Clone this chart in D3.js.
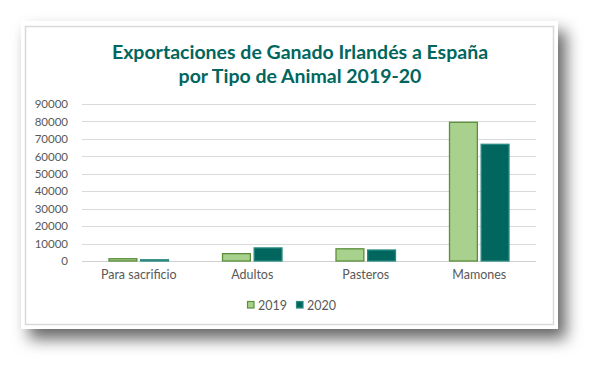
<!DOCTYPE html>
<html>
<head>
<meta charset="utf-8">
<script src="https://cdn.jsdelivr.net/npm/d3@7"></script>
<style>
  body { margin: 0; background: #fff; }
  svg text { font-family: Lato, "Open Sans", sans-serif; }
</style>
</head>
<body>
<div id="plot-container"></div>
<script>
// data
var categories = ['Para sacrificio', 'Adultos', 'Pasteros', 'Mamones'];
var seriesNames = ['2019', '2020'];
var values2019 = [1300, 4200, 7000, 79500];
var values2020 = [700, 7500, 6300, 66900];
var yTicks = [0, 10000, 20000, 30000, 40000, 50000, 60000, 70000, 80000, 90000];
var titleLines = ['Exportaciones de Ganado Irlandés a España', 'por Tipo de Animal 2019-20'];

var totalWidth = 600, totalHeight = 372;
var margins = {top: 104, bottom: 111, left: 82, right: 64};
var width = totalWidth - margins.left - margins.right;
var height = totalHeight - margins.top - margins.bottom;
var colors = {fill: ['#a9d18e', '#00665e'], stroke: ['#5b8f3a', '#2a8a80'], title: '#00665e'};

var svg = d3.select('#plot-container').append('svg').attr('width', totalWidth).attr('height', totalHeight);

// shadowed card
var defs = svg.append('defs');
var f = defs.append('filter').attr('id', 'shadow').attr('x', '-10%').attr('y', '-10%').attr('width', '130%').attr('height', '140%');
f.append('feDropShadow').attr('dx', 8).attr('dy', 10).attr('stdDeviation', 8).attr('flood-color', '#000').attr('flood-opacity', 0.6);
svg.append('rect').attr('x', 21).attr('y', 21).attr('width', 537).attr('height', 308).attr('fill', '#fff').attr('filter', 'url(#shadow)');
svg.append('rect').attr('x', 25.5).attr('y', 26.5).attr('width', 528).attr('height', 298).attr('fill', '#fff').attr('stroke', '#d9d9d9').attr('stroke-width', 1.5);

// title
svg.append('g').selectAll('text').data(titleLines).enter().append('text')
  .attr('x', 300).attr('y', function(d, i) { return 59 + i * 24; })
  .attr('text-anchor', 'middle').attr('fill', colors.title)
  .style('font-size', '19.5px').style('font-weight', 'bold').text(function(d) { return d; });

var xScale = d3.scaleBand().domain(categories).range([0, width]);
var xInner = d3.scaleBand().domain(seriesNames).range([27, xScale.bandwidth() - 27]).paddingInner(0.12);
var yScale = d3.scaleLinear().domain([0, 90000]).range([height, 0]);

var plot = svg.append('g').attr('transform', 'translate(' + [margins.left, margins.top] + ')');

// grid
plot.selectAll('line.grid').data(yTicks).enter().append('line').attr('class', 'grid')
  .attr('x1', 0).attr('x2', width)
  .attr('y1', function(d) { return Math.round(yScale(d)) + 0.5; }).attr('y2', function(d) { return Math.round(yScale(d)) + 0.5; })
  .attr('stroke', function(d) { return d === 0 ? '#d0d0d0' : '#d9d9d9'; }).attr('stroke-width', 1.2);

// y axis labels
var yAxis = plot.append('g').call(d3.axisLeft(yScale).tickValues(yTicks).tickFormat(d3.format('d')).tickSize(0).tickPadding(14));
yAxis.select('.domain').remove();
yAxis.selectAll('text').attr('fill', '#595959').style('font-size', '11.5px');

// x axis labels
var xAxis = plot.append('g').attr('transform', 'translate(0,' + height + ')').call(d3.axisBottom(xScale).tickSize(0).tickPadding(9));
xAxis.select('.domain').remove();
xAxis.selectAll('text').attr('fill', '#595959').style('font-size', '12.5px');

// bars
var rows = categories.map(function(c, i) { return {cat: c, vals: [values2019[i], values2020[i]]}; });
var groups = plot.selectAll('g.cat').data(rows).enter().append('g').attr('class', 'cat')
  .attr('transform', function(d) { return 'translate(' + xScale(d.cat) + ',0)'; });
groups.selectAll('rect').data(function(d) { return d.vals.map(function(v, j) { return {s: seriesNames[j], v: v, j: j}; }); })
  .enter().append('rect')
  .attr('x', function(d) { return xInner(d.s); }).attr('width', xInner.bandwidth())
  .attr('y', function(d) { return yScale(d.v); }).attr('height', function(d) { return height - yScale(d.v); })
  .attr('fill', function(d) { return colors.fill[d.j]; }).attr('stroke', function(d) { return colors.stroke[d.j]; }).attr('stroke-width', 1.3);

// legend
var legend = svg.append('g').attr('transform', 'translate(247,305)');
var items = legend.selectAll('g').data(seriesNames).enter().append('g')
  .attr('transform', function(d, i) { return 'translate(' + (i * 49) + ',0)'; });
items.append('rect').attr('x', 0.5).attr('y', -3.5).attr('width', 6.5).attr('height', 6.5)
  .attr('fill', function(d, i) { return colors.fill[i]; }).attr('stroke', function(d, i) { return colors.stroke[i]; }).attr('stroke-width', 1.2);
items.append('text').attr('x', 11).attr('y', 4.5).attr('fill', '#595959').style('font-size', '12.5px').text(function(d) { return d; });
</script>
</body>
</html>
